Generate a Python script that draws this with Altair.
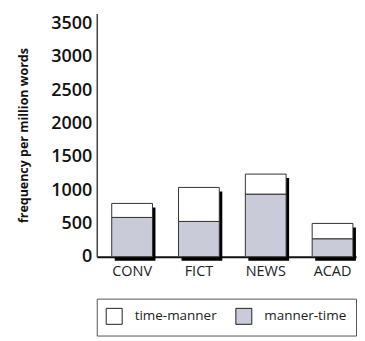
import altair as alt
import pandas as pd

registers = ["CONV", "FICT", "NEWS", "ACAD"]
manner_time = [590, 530, 940, 270]
time_manner = [210, 510, 300, 230]
series = ["time-manner", "manner-time"]
y_ticks = [0, 500, 1000, 1500, 2000, 2500, 3000, 3500]

rows = []
for r, mt, tm in zip(registers, manner_time, time_manner):
    rows.append({"register": r, "kind": "manner-time", "start": 0, "end": mt, "order": 0})
    rows.append({"register": r, "kind": "time-manner", "start": mt, "end": mt + tm, "order": 1})
df = pd.DataFrame(rows)
tot = pd.DataFrame({"register": registers, "total": [a + b for a, b in zip(manner_time, time_manner)]})

xscale = alt.Scale(domain=registers, paddingInner=0.39, paddingOuter=0.135, align=0.83)
yscale = alt.Scale(domain=[0, 3650], nice=False)

xenc = alt.X("register:N", scale=xscale, sort=registers,
             axis=alt.Axis(title=None, labelAngle=0, labelFont="Open Sans", labelFontSize=14.5,
                           labelColor="#222", ticks=False, domainColor="#111", domainWidth=2,
                           labelPadding=8))

yaxis = alt.Axis(title="frequency per million words", values=y_ticks, grid=False, ticks=False,
                 format="d", labelOverlap=False,
                 labelFont="Open Sans", labelFontSize=18, labelFontWeight=600,
                 labelColor="#111", labelPadding=5, domainColor="#444", domainWidth=1.5,
                 titleFont="Open Sans", titleFontSize=12.5, titleFontWeight="bold",
                 titleColor="#111", titlePadding=20)

shadow = alt.Chart(tot).mark_bar(color="black", xOffset=3, yOffset=4).encode(
    x=xenc,
    y=alt.Y("total:Q", scale=yscale, axis=yaxis),
)

bars = alt.Chart(df).mark_bar(stroke="#333", strokeWidth=1).encode(
    x=xenc,
    y=alt.Y("start:Q", scale=yscale, axis=yaxis),
    y2="end:Q",
    fill=alt.Fill("kind:N", scale=alt.Scale(domain=series, range=["#ffffff", "#c9ccd8"]),
                  legend=alt.Legend(title=None, orient="none", legendX=0, legendY=286,
                                    direction="horizontal", symbolType="square", symbolSize=256,
                                    symbolStrokeColor="#222", symbolStrokeWidth=1,
                                    labelFont="Open Sans", labelFontSize=13.5, labelColor="#222",
                                    labelOffset=12, columnPadding=16, padding=9,
                                    strokeColor="#555", fillColor="white")),
    order=alt.Order("order:Q"),
)

chart = (shadow + bars).properties(
    width=260, height=244,
    padding={"left": 9, "top": 5, "right": 0, "bottom": 0},
).configure_view(stroke=None)
chart.save("out.html", embed_options={"renderer": "svg", "actions": False})
